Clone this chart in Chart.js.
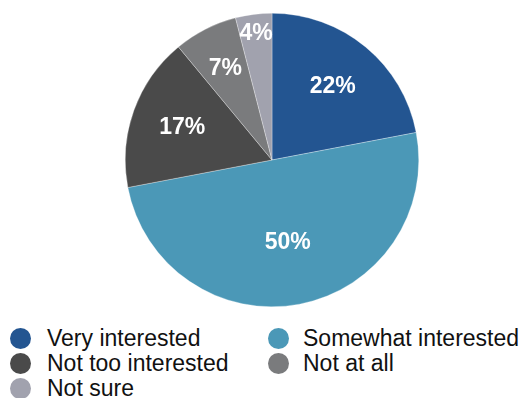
<!DOCTYPE html>
<html>
<head>
<meta charset="utf-8">
<script src="https://cdn.jsdelivr.net/npm/chart.js@4/dist/chart.umd.min.js"></script>
<style>
  html, body { margin: 0; padding: 0; background: #fff; }
  #wrap { position: relative; width: 532px; height: 398px; overflow: hidden; }
  #pie { position: absolute; left: 125px; top: 13px; }
  #legend {
    position: absolute; left: 10px; top: 326px;
    display: grid; grid-template-columns: 258px auto; grid-auto-rows: 25px;
    font-family: "Liberation Sans", Arial, sans-serif; font-size: 23px; color: #111;
  }
  .item { display: flex; align-items: center; white-space: nowrap; }
  .dot { width: 21px; height: 21px; border-radius: 50%; margin-right: 16px; flex: none; }
  .item.c2 .dot { margin-right: 14px; }
</style>
</head>
<body>
<div id="wrap">
  <canvas id="pie" width="294" height="294"></canvas>
  <div id="legend"></div>
</div>
<script>
const categories = ['Very interested', 'Somewhat interested', 'Not too interested', 'Not at all', 'Not sure'];
const shares = [22, 50, 17, 7, 4];
const colors = ['#235591', '#4b98b7', '#4a4a4a', '#7a7b7d', '#a1a2ae'];

// how far out (fraction of radius) each percent label sits
const labelRadius = [0.65, 0.57, 0.65, 0.7, 0.87];

const sliceLabels = {
  id: 'sliceLabels',
  afterDatasetsDraw(chart) {
    const ctx = chart.ctx;
    const meta = chart.getDatasetMeta(0);
    ctx.save();
    ctx.fillStyle = '#fff';
    ctx.font = 'bold 23px "Liberation Sans", Arial, sans-serif';
    ctx.textAlign = 'center';
    ctx.textBaseline = 'middle';
    meta.data.forEach((arc, i) => {
      const { x, y, startAngle, endAngle, outerRadius } = arc.getProps(['x', 'y', 'startAngle', 'endAngle', 'outerRadius'], true);
      const mid = (startAngle + endAngle) / 2;
      const d = outerRadius * labelRadius[i];
      ctx.fillText(shares[i] + '%', x + Math.cos(mid) * d, y + Math.sin(mid) * d);
    });
    ctx.restore();
  }
};

new Chart(document.getElementById('pie'), {
  type: 'pie',
  data: {
    labels: categories,
    datasets: [{ data: shares, backgroundColor: colors, borderColor: 'rgba(255,255,255,0.6)', borderWidth: 0.5 }],
  },
  options: {
    responsive: false,
    animation: false,
    devicePixelRatio: 1,
    layout: { padding: 0 },
    plugins: { legend: { display: false }, tooltip: { enabled: false } },
  },
  plugins: [sliceLabels],
});

// two-column legend below the pie
const legend = document.getElementById('legend');
categories.forEach((name, i) => {
  const item = document.createElement('div');
  item.className = 'item' + (i % 2 ? ' c2' : '');
  const dot = document.createElement('span');
  dot.className = 'dot';
  dot.style.background = colors[i];
  item.appendChild(dot);
  item.appendChild(document.createTextNode(name));
  legend.appendChild(item);
});
</script>
</body>
</html>
